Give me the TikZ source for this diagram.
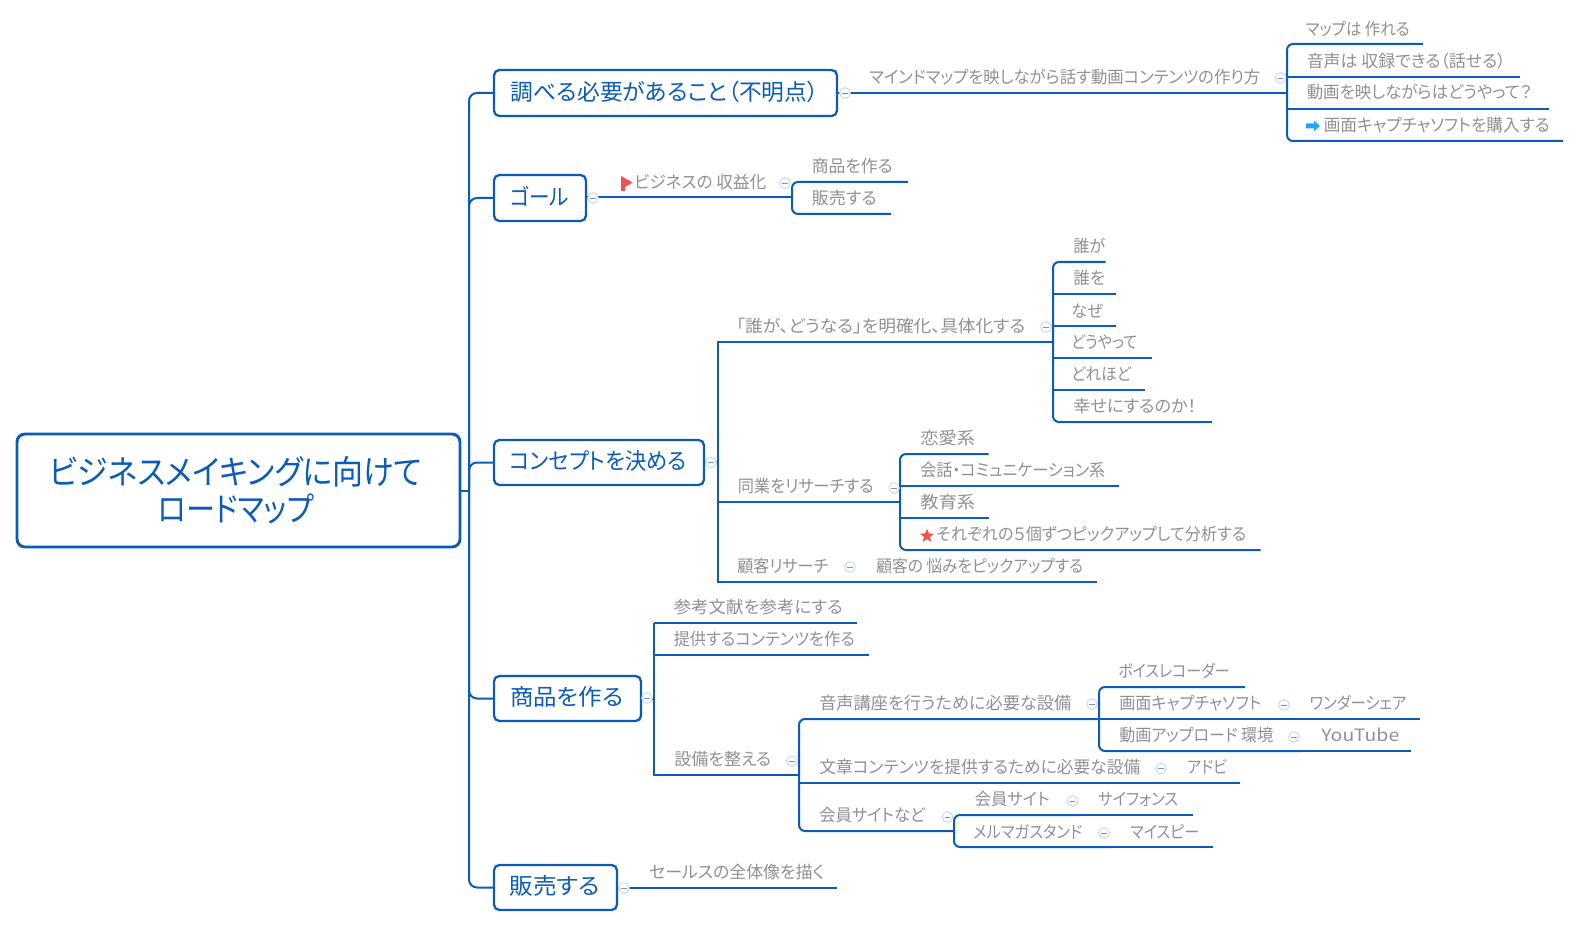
\documentclass[tikz,border=0pt]{standalone}
\usepackage{fontspec}
\usepackage{graphicx}
\usetikzlibrary{shapes.geometric,calc}
\setmainfont[RawFeature={+palt}]{Noto Sans CJK JP}
\definecolor{mapblue}{HTML}{0B5CB8}
\definecolor{maptext}{HTML}{909090}
\definecolor{foldline}{HTML}{C6D6F2}
\definecolor{foldbar}{HTML}{7F93B8}
\definecolor{iconred}{HTML}{EF5350}
\definecolor{iconblue}{HTML}{1EA7F7}
\newdimen\pxu \pxu=0.75pt
\tikzset{
  conn/.style={draw=mapblue,line width=1.5pt},
  bus/.style={conn},
  curvebus/.style={conn,rounded corners=4.5pt},
  lbl/.style={inner sep=0pt,text=maptext,font=\fontsize{12.75pt}{15pt}\selectfont},
  topicbox/.style={draw=mapblue,line width=1.7pt,rounded corners=4pt,fill=white,inner sep=0pt,
    text=mapblue,align=center,font=\fontsize{17pt}{20pt}\selectfont,text height=15pt,text depth=4pt},
  rootbox/.style={draw=mapblue,line width=2.2pt,rounded corners=6pt,fill=white,inner sep=0pt,
    text=mapblue,align=center,font=\fontsize{25pt}{27pt}\selectfont},
  foldc/.style={circle,draw=foldline,line width=0.7pt,fill=white,minimum size=8pt,inner sep=0pt},
  foldb/.style={draw=foldbar,line width=0.5pt},
}
% name, x0, x1, y of line, text x, text width, text centre y, text (no own line)
\newcommand\branchq[8]{%
  \coordinate (#1-l) at (#2,#4);
  \coordinate (#1-r) at (#3,#4);
  \path let \n1={#7+6.5} in node[lbl,anchor=base west] (#1) at (#5,\n1) {\resizebox{#6\pxu}{\height}{#8}};
}
% the same, with its own line
\newcommand\branch[8]{%
  \branchq{#1}{#2}{#3}{#4}{#5}{#6}{#7}{#8}
  \draw[conn] (#1-l) -- (#1-r);
}
% name, x0, x1, y0, y1, text width, text
\newcommand\topic[7]{%
  \path let \n1={(#2+#3)/2},\n2={(#4+#5)/2},\n3={(#3-#2)*0.75},\n4={(#5-#4)*0.75} in
    node[topicbox,minimum width=\n3 pt,minimum height=\n4 pt] (#1) at (\n1,\n2) {\resizebox{#6\pxu}{\height}{#7}\kern1pt};
}
\newcommand\fold[3]{%
  \node[foldc] (#1) at (#2,#3) {};
  \draw[foldb] ([xshift=-2pt]#1.center) -- ([xshift=2pt]#1.center);
}
\begin{document}
\begin{tikzpicture}[x=0.75pt,y=-0.75pt]
\useasboundingbox (0,0) rectangle (1580,927);

% root
\node[rootbox,minimum width=443*0.75pt,minimum height=113*0.75pt] (root) at (238.5,490.5)
  {\raisebox{3.5pt}{\resizebox{373\pxu}{\height}{ビジネスメイキングに向けて}}\kern4pt\\[0pt]\raisebox{2.5pt}{\resizebox{156\pxu}{\height}{ロードマップ}}\kern4pt};
\coordinate (tr) at (469,490.5);
\draw[conn] (root.east) -- (tr);

% main topics
\topic{t1}{494}{837}{70}{116}{308}{調べる必要があること（不明点）}
\topic{t2}{494}{586}{175}{221}{59}{ゴール}
\topic{t3}{494}{704}{440}{485}{177}{コンセプトを決める}
\topic{t4}{494}{641}{676}{721}{113}{商品を作る}
\topic{t5}{494}{617}{865}{910}{90}{販売する}
\foreach \t in {t1,t2,t3,t4,t5} {\draw[curvebus,rounded corners=6pt] (tr) |- (\t.west);}

% branch 1
\branch{a}{837}{1287}{93}{869}{391}{77}{マインドマップを映しながら話す動画コンテンツの作り方}
\branchq{aa}{1287}{1423}{44}{1305.5}{104}{29.5}{マップは 作れる}
\branch{ab}{1287}{1520}{77}{1306.5}{199}{61}{音声は 収録できる（話せる）}
\branch{ac}{1287}{1549}{109}{1306.5}{225}{92.5}{動画を映しながらはどうやって？}
\branchq{ad}{1287}{1563}{141}{1323.5}{226}{125}{画面キャプチャソフトを購入する}
\draw[curvebus] (aa-r) -- (aa-l) -- (ad-l) -- (ad-r);
\fill[iconblue] (1306,123.5) -- (1314,123.5) -- (1314,120.7) -- (1320,126) -- (1314,131.3) -- (1314,128.5) -- (1306,128.5) -- cycle;

% branch 2
\branch{b}{586}{792}{197}{634}{132}{182}{ビジネスの 収益化}
\branchq{ba}{792}{908}{182}{811.5}{81}{166}{商品を作る}
\branchq{bb}{792}{891}{214}{811.5}{65}{198}{販売する}
\draw[curvebus] (ba-r) -- (ba-l) -- (bb-l) -- (bb-r);
\fill[iconred] (621,176) -- (632.5,182.5) -- (625,187) -- (625,191) -- (621,191) -- cycle;

% branch 3
\coordinate (cbus) at (718,462);
\draw[conn] (t3.east) -- (cbus);
\branchq{c}{718}{1053}{342}{736}{289}{325.5}{「誰が、どうなる」を明確化、具体化する}
\branchq{ca}{1053}{1105.5}{262}{1073}{32}{246}{誰が}
\branch{cb}{1053}{1115.5}{294}{1073}{32}{278}{誰を}
\branch{cc}{1053}{1115.5}{326}{1071}{32}{310.5}{なぜ}
\branch{cd}{1053}{1152}{358}{1071}{66}{341.5}{どうやって}
\branch{ce}{1053}{1145}{390}{1071}{60}{374}{どれほど}
\branchq{cf}{1053}{1212}{422}{1073}{123}{406}{幸せにするのか！}
\draw[curvebus] (ca-r) -- (ca-l) -- (cf-l) -- (cf-r);
\branch{d}{718}{900}{502}{737.5}{136}{486}{同業をリサーチする}
\branchq{da}{900}{988.5}{454}{920}{55}{438}{恋愛系}
\branch{db}{900}{1118.5}{486}{920}{185}{470}{会話・コミュニケーション系}
\branch{dc}{900}{988.5}{518}{920}{55}{502}{教育系}
\branchq{dd}{900}{1260.5}{550}{936}{310}{534}{それぞれの５個ずつピックアップして分析する}
\draw[curvebus] (da-r) -- (da-l) -- (dd-l) -- (dd-r);
\node[star,star points=5,star point ratio=2.3,fill=iconred,inner sep=0pt,minimum size=11pt] (ddstar) at (927,536) {};
\branchq{e}{718}{860}{582}{737}{91}{566}{顧客リサーチ}
\branchq{ea}{860}{1096.5}{582}{876}{207}{566}{顧客の 悩みをピックアップする}
\draw[bus] (c-r) -- (c-l) -- (e-l) -- (ea-r);

% branch 4
\branch{f}{654}{856.5}{623}{673.5}{169}{606.5}{参考文献を参考にする}
\branch{g}{654}{868.5}{655}{673.5}{181}{639}{提供するコンテンツを作る}
\branchq{h}{654}{799}{775}{674}{97}{759}{設備を整える}
\draw[bus] (f-l) -- (h-l) -- (h-r);
\draw[conn] (t4.east) -- (t4.east -| h-l);
\branchq{ha}{799}{1099}{719}{819}{252}{703}{音声講座を行うために必要な設備}
\branchq{haa}{1099}{1245}{687}{1118}{111.5}{671}{ボイスレコーダー}
\branch{hab}{1099}{1292}{719}{1119}{142}{703}{画面キャプチャソフト}
\branch{haba}{1292}{1420}{719}{1309.5}{96.5}{703}{ワンダーシェア}
\branchq{hac}{1099}{1302}{751}{1119}{154}{735}{動画アップロード 環境}
\branch{haca}{1302}{1411}{751}{1321}{78}{735}{YouTube}
\draw[curvebus] (haa-r) -- (haa-l) -- (hac-l) -- (hac-r);
\branch{hb}{799}{1170}{783}{819}{321}{767}{文章コンテンツを提供するために必要な設備}
\branch{hba}{1170}{1239.5}{783}{1187}{40}{767}{アドビ}
\branchq{hc}{799}{954}{831}{819}{106}{815}{会員サイトなど}
\branchq{hca}{954}{1080}{815}{974.5}{75}{799}{会員サイト}
\branch{hcaa}{1080}{1192.5}{815}{1098}{80}{799}{サイフォンス}
\branchq{hcb}{954}{1112}{847}{973}{109}{832}{メルマガスタンド}
\branch{hcba}{1112}{1212.5}{847}{1130}{69}{832}{マイスピー}
\draw[curvebus] (hca-r) -- (hca-l) -- (hcb-l) -- (hcb-r);
\draw[curvebus] (ha-r) -- (ha-l) -- (hc-l) -- (hc-r);

% branch 5
\branch{i}{617}{836.5}{888}{649}{175}{872}{セールスの全体像を描く}

% fold marks
\fold{f1}{845}{93}
\fold{f2}{1280.5}{78}
\fold{f3}{593}{198}
\fold{f4}{785}{183}
\fold{f5}{1046}{327}
\fold{f6}{711}{462.5}
\fold{f7}{894}{488}
\fold{f8}{850}{567}
\fold{f9}{647}{698}
\fold{f10}{792}{761}
\fold{f11}{1092}{704}
\fold{f12}{1284}{705}
\fold{f13}{1294}{737}
\fold{f14}{1161}{768.5}
\fold{f15}{947.5}{817}
\fold{f16}{1072.5}{801}
\fold{f17}{1104}{833}
\fold{f18}{624}{888}
\end{tikzpicture}
\end{document}
